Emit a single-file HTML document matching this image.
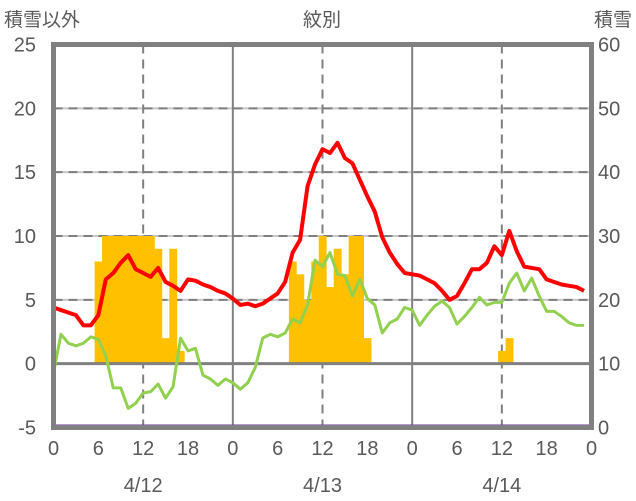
<!DOCTYPE html>
<html><head><meta charset="utf-8"><style>
body{margin:0;background:#fff;}
svg{display:block;font-family:"Liberation Sans","Noto Sans CJK JP",sans-serif;}
</style></head><body>
<svg id="c" width="636" height="501"></svg>
<script>
const hoursLabels=["0","6","12","18","0","6","12","18","0","6","12","18","0"];
const dates=["4/12","4/13","4/14"];
const leftTicks=[-5,0,5,10,15,20,25];
const rightTicks=[0,10,20,30,40,50,60];
const redSeries=[4.4,4.2,4.0,3.8,3.0,3.0,3.8,6.6,7.1,7.9,8.5,7.4,7.1,6.8,7.5,6.4,6.1,5.7,6.6,6.5,6.2,6.0,5.7,5.5,5.1,4.6,4.7,4.5,4.7,5.1,5.5,6.4,8.7,9.7,13.9,15.6,16.8,16.5,17.3,16.1,15.7,14.4,13.1,11.9,9.9,8.7,7.8,7.1,7.0,6.9,6.6,6.3,5.7,5.0,5.3,6.3,7.4,7.4,7.9,9.2,8.5,10.4,8.8,7.6,7.5,7.4,6.6,6.4,6.2,6.1,6.0,5.7];
const greenSeries=[-0.7,2.3,1.6,1.4,1.6,2.1,1.9,0.6,-1.9,-1.9,-3.5,-3.1,-2.3,-2.2,-1.6,-2.7,-1.8,2.0,1.0,1.2,-0.9,-1.2,-1.7,-1.2,-1.5,-2.0,-1.5,-0.3,2.0,2.3,2.1,2.4,3.5,3.2,4.6,8.1,7.6,8.7,7.0,6.9,5.3,6.6,5.1,4.6,2.4,3.2,3.5,4.4,4.2,3.0,3.8,4.5,4.9,4.4,3.1,3.7,4.4,5.2,4.6,4.8,4.8,6.3,7.1,5.7,6.7,5.3,4.1,4.1,3.7,3.2,3.0,3.0];
const snowHours=[6,7,8,9,10,11,12,13,14,15,16,17,32,33,34,35,36,37,38,39,40,41,42,60,61];
const snowValues=[8,10,10,10,10,10,10,10,9,2,9,1,8,7,5,8,10,6,9,7,10,10,2,1,2];
const NS="http://www.w3.org/2000/svg";
const svg=document.getElementById('c');
const X0=53.5,X1=591.5,Y0=427.5,Y1=44.5;
function xs(h){return X0+(X1-X0)*h/72;}
function ys(v){return Y0-(Y0-Y1)*(v+5)/30;}
function yr(v){return Y0-(Y0-Y1)*v/60;}
function mk(t,a,p){const e=document.createElementNS(NS,t);for(const k in a)e.setAttribute(k,a[k]);(p||svg).appendChild(e);return e;}
// grid
const g=mk('g',{});


[5,10,15,20].forEach(v=>{const l=mk('line',{x1:X0,x2:X1,y1:ys(v),y2:ys(v),stroke:'#c8c8c8','stroke-width':2},g);
mk('line',{x1:X0,x2:X1,y1:ys(v),y2:ys(v),stroke:'#7f7f7f','stroke-width':2,'stroke-dasharray':'9,6'},g);});
[12,36,60].forEach(h=>{const l=mk('line',{x1:xs(h),x2:xs(h),y1:Y1,y2:Y0,stroke:'#7f7f7f','stroke-width':2,'stroke-dasharray':'9,6'},g);});
[24,48].forEach(h=>{const l=mk('line',{x1:xs(h),x2:xs(h),y1:Y1,y2:Y0,stroke:'#808080','stroke-width':2},g);});
// bars
snowHours.forEach((h,i)=>{const w=(X1-X0)/72;const b=mk('rect',{x:xs(h)-w/2,y:ys(snowValues[i]),width:w+0.4,height:ys(0)-ys(snowValues[i]),fill:'#ffc000'});

});
const z=mk('line',{x1:X0,x2:X1,y1:ys(0),y2:ys(0),stroke:'#808080','stroke-width':3});


function line(arr,col,w,name){const p=mk('polyline',{points:arr.map((v,i)=>xs(i)+','+ys(v)).join(' '),fill:'none',stroke:col,'stroke-width':w,'stroke-linejoin':'round'});

}
line(greenSeries,'#92d050',3,'green-series');
line(redSeries,'#ff0000',4,'red-series');
const pu=mk('line',{x1:X0,x2:X1-2,y1:Y0-1.5,y2:Y0-1.5,stroke:'#7030a0','stroke-width':3});


const fr=mk('rect',{x:X0,y:Y1,width:X1-X0,height:Y0-Y1,fill:'none',stroke:'#808080','stroke-width':5});


// labels
function txt(x,y,s,anchor,name,size){const t=mk('text',{x:x,y:y,'text-anchor':anchor,fill:'#595959','font-size':size||20});t.textContent=s;

}
leftTicks.forEach(v=>txt(36,ys(v)+7,String(v),'end','left-tick-label'));
rightTicks.forEach(v=>txt(598,yr(v)+7,String(v),'start','right-tick-label'));
hoursLabels.forEach((s,i)=>txt(xs(i*6),455,s,'middle','x-tick-label'));
dates.forEach((s,i)=>txt(xs(12+i*24),492,s,'middle','date-label'));
txt(4,26,'積雪以外','start','left-axis-title',19);
txt(322,26,'紋別','middle','chart-title',19);
txt(632,26,'積雪','end','right-axis-title',19);
</script>
</body></html>
